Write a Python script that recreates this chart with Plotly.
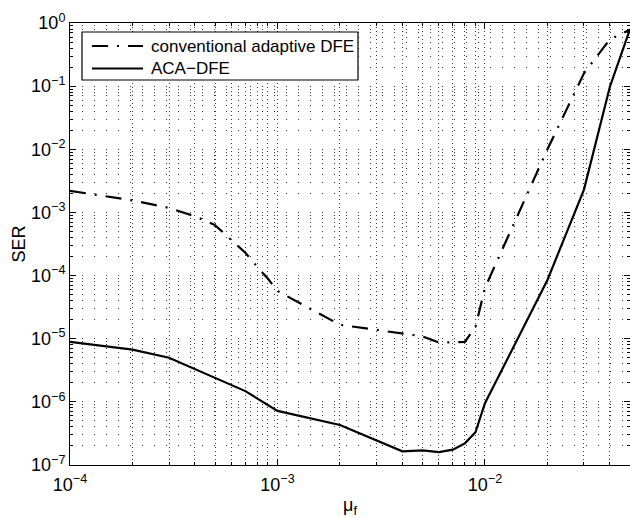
import numpy as np
import plotly.graph_objects as go

# Step size mu_f (shared by both curves)
mu_conv = [1e-4, 2e-4, 3e-4, 4e-4, 5e-4, 6e-4, 7e-4, 8e-4, 9e-4, 1e-3,
           2e-3, 3e-3, 4e-3, 5e-3, 6e-3, 7e-3, 8e-3, 9e-3, 1e-2,
           2e-2, 3e-2, 4e-2, 5e-2]
ser_conv = [2.2e-3, 1.55e-3, 1.18e-3, 8.7e-4, 6.3e-4, 3.7e-4, 2.3e-4, 1.37e-4, 8.9e-5, 5.7e-5,
            1.66e-5, 1.38e-5, 1.2e-5, 1.09e-5, 8.7e-6, 8.7e-6, 8.9e-6, 1.54e-5, 6.4e-5,
            1.0e-2, 0.16, 0.55, 0.78]

mu_aca = [1e-4, 2e-4, 3e-4, 5e-4, 7e-4, 1e-3, 2e-3, 4e-3, 5e-3, 6e-3, 7e-3, 8e-3, 9e-3, 1e-2,
          2e-2, 3e-2, 4e-2, 5e-2]
ser_aca = [8.9e-6, 6.7e-6, 5.0e-6, 2.4e-6, 1.48e-6, 7.2e-7, 4.3e-7, 1.65e-7, 1.7e-7, 1.6e-7,
           1.75e-7, 2.2e-7, 3.3e-7, 9.5e-7, 8.5e-5, 2.3e-3, 0.098, 0.8]

legend_labels = ["conventional adaptive DFE", "ACA\u2212DFE"]

x_exps = [-4, -3, -2]
y_exps = list(range(-7, 1))


def pow_label(e):
    sign = "\u2212" if e < 0 else ""
    return f"10<sup>{sign}{abs(e)}</sup>"


x_major = [10.0 ** e for e in x_exps]
y_major = [10.0 ** e for e in y_exps]
x_minor = [k * 10.0 ** e for e in range(-4, -1) for k in range(2, 10) if k * 10.0 ** e <= 0.05]
y_minor = [k * 10.0 ** e for e in range(-7, 0) for k in range(2, 10)]

W, H = 630, 518
ML, MR, MT, MB = 70, 0, 23, 53
PW, PH = W - ML - MR, H - MT - MB

FONT = "Liberation Sans, Arial, Helvetica, sans-serif"
DASHDOT = "16px,9px,2px,9px"

fig = go.Figure()
fig.add_trace(go.Scatter(x=mu_conv, y=ser_conv, mode="lines",
                         line=dict(color="black", width=2.2, dash=DASHDOT),
                         showlegend=False))
fig.add_trace(go.Scatter(x=mu_aca, y=ser_aca, mode="lines",
                         line=dict(color="black", width=2.2),
                         showlegend=False))

grid_col = "#3a3a3a"
common = dict(type="log", showline=True, linecolor="black", linewidth=1,
              mirror="allticks", ticks="inside", ticklen=6, tickwidth=1,
              tickcolor="black", showgrid=True, gridcolor=grid_col, gridwidth=1,
              zeroline=False, tickfont=dict(family=FONT, size=18, color="black"))

fig.update_xaxes(**common, range=[-4, np.log10(0.05)],
                 tickvals=x_major, ticktext=[pow_label(e) for e in x_exps],
                 griddash="1px,3px", ticklabelstandoff=3,
                 minor=dict(tickvals=x_minor, ticks="inside", ticklen=3,
                            tickcolor="black", showgrid=True, gridcolor=grid_col,
                            griddash="1px,3px"),
                 title=dict(text="\u03bc<sub>f</sub>", font=dict(family=FONT, size=18),
                            standoff=9))
fig.update_yaxes(**common, range=[-7, 0],
                 tickvals=y_major, ticktext=[pow_label(e) for e in y_exps],
                 griddash="1px,11px",
                 minor=dict(tickvals=y_minor, ticks="inside", ticklen=3,
                            tickcolor="black", showgrid=True, gridcolor=grid_col,
                            griddash="1px,11px"),
                 title=dict(text="SER", font=dict(family=FONT, size=18), standoff=0))


# Legend box drawn in paper coordinates (pixel helpers)
def px(x):
    return (x - ML) / PW


def py(y):
    return (H - MB - y) / PH


fig.add_shape(type="rect", xref="paper", yref="paper",
              x0=px(82), x1=px(358), y0=py(80), y1=py(32),
              line=dict(color="black", width=1.2), fillcolor="white", layer="above")
rows = [46, 68.5]
styles = [DASHDOT, "solid"]
for yy, dash, lab in zip(rows, styles, legend_labels):
    fig.add_shape(type="line", xref="paper", yref="paper",
                  x0=px(92), x1=px(143), y0=py(yy), y1=py(yy),
                  line=dict(color="black", width=2.2, dash=dash), layer="above")
    fig.add_annotation(xref="paper", yref="paper", x=px(149), y=py(yy),
                       text=lab, showarrow=False, xanchor="left", yanchor="middle",
                       font=dict(family=FONT, size=17, color="black"))

fig.update_layout(width=W, height=H, margin=dict(l=ML, r=MR, t=MT, b=MB),
                  paper_bgcolor="white", plot_bgcolor="white",
                  font=dict(family=FONT, color="black"))

fig.write_html("out.html")
